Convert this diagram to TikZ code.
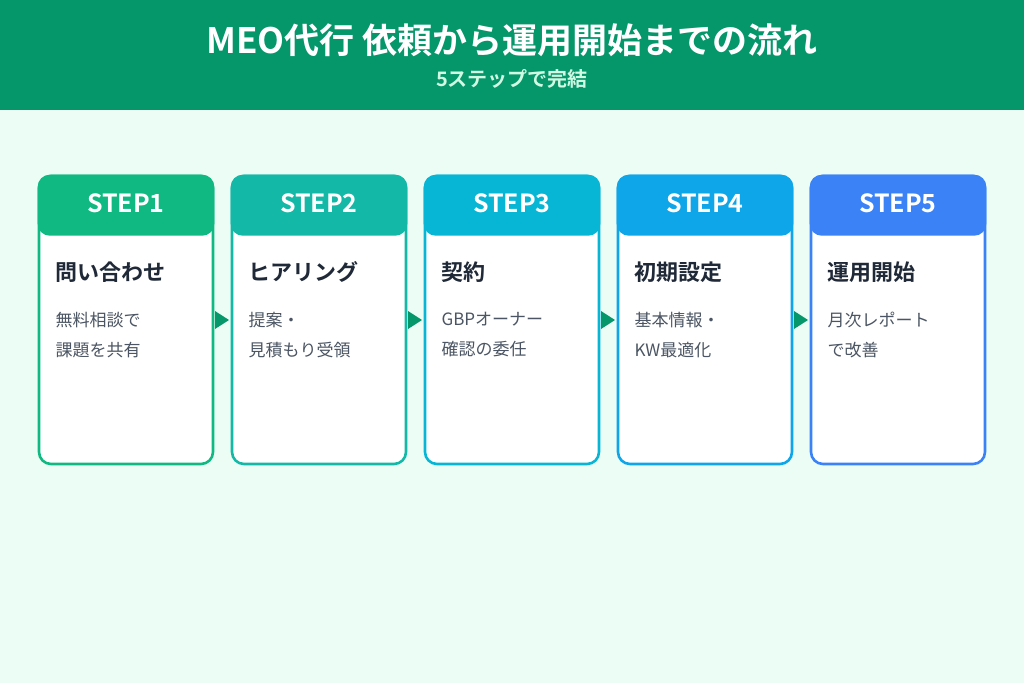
\documentclass[tikz,border=0pt]{standalone}
\usepackage{fontspec}
\setmainfont{Noto Sans CJK JP}
\newfontfamily\jpb{Noto Sans CJK JP Bold}
\begin{document}
\begin{tikzpicture}[x=1pt,y=-1pt,
  card/.style={draw=#1,line width=2.6pt,fill=white,rounded corners=12pt},
  hdr/.style={fill=#1,rounded corners=12pt},
  steplbl/.style={text=white,font=\jpb\fontsize{25}{28}\selectfont},
  ttl/.style={anchor=west,text=c1f,font=\jpb\fontsize{22}{26}\selectfont},
  desc/.style={anchor=west,text=c4b,align=left,font=\fontsize{17}{30}\selectfont},
  arr/.style={fill=g6,draw=none}]
\definecolor{g6}{HTML}{059669}
\definecolor{bg}{HTML}{ECFDF5}
\definecolor{c1f}{HTML}{1F2937}
\definecolor{c4b}{HTML}{4B5563}
\definecolor{sub}{HTML}{D1FAE5}
\definecolor{s1}{HTML}{10B981}
\definecolor{s2}{HTML}{14B8A6}
\definecolor{s3}{HTML}{06B6D4}
\definecolor{s4}{HTML}{0EA5E9}
\definecolor{s5}{HTML}{3B82F6}
\useasboundingbox (0,0) rectangle (1024,683);
\fill[bg] (0,0) rectangle (1024,683);
\fill[g6] (0,0) rectangle (1024,110);
\node[text=white,font=\jpb\fontsize{35}{40}\selectfont] (title) at (512,40) {MEO代行 依頼から運用開始までの流れ};
\node[text=sub,font=\jpb\fontsize{20}{24}\selectfont] (subt) at (512,79) {5ステップで完結};
\foreach \i/\c/\t/\d in {1/s1/問い合わせ/{無料相談で\\課題を共有},2/s2/ヒアリング/{提案・\\見積もり受領},3/s3/契約/{GBPオーナー\\確認の委任},4/s4/初期設定/{基本情報・\\KW最適化},5/s5/運用開始/{月次レポート\\で改善}}{
  \pgfmathsetmacro\xx{39+193*(\i-1)}
  \draw[card=\c] (\xx,176) rectangle ++(174,288);
  \fill[hdr=\c] (\xx-1.3,174.7) rectangle ++(176.6,61);
  \node[steplbl] (st\i) at (\xx+87,203) {STEP\i};
  \node[ttl] (tt\i) at (\xx+13,272) {\t};
  \node[desc] (ds\i) at (\xx+13,335) {\d};
}
\foreach \i in {1,2,3,4}{
  \pgfmathsetmacro\ax{215+193*(\i-1)}
  \fill[arr] (\ax,311) -- (\ax+14,320) -- (\ax,329) -- cycle;
}
\end{tikzpicture}
\end{document}
